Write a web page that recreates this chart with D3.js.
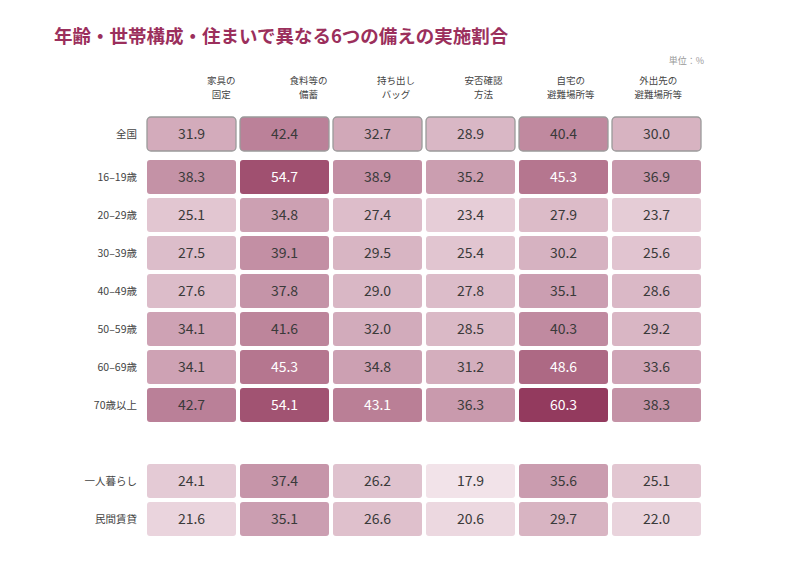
<!DOCTYPE html>
<html>
<head>
<meta charset="utf-8">
<script src="https://cdn.jsdelivr.net/npm/d3@7"></script>
<style>
  body { margin: 0; background: #fff; }
  text { font-family: "Noto Sans CJK JP", "Noto Sans", sans-serif; }
</style>
</head>
<body>
<div id="chart"></div>
<script>
const columns = ['家具の固定', '食料等の備蓄', '持ち出しバッグ', '安否確認方法', '自宅の避難場所等', '外出先の避難場所等']
const columnLines = [['家具の', '固定'], ['食料等の', '備蓄'], ['持ち出し', 'バッグ'], ['安否確認', '方法'], ['自宅の', '避難場所等'], ['外出先の', '避難場所等']]

const nationalRow = ['全国']
const nationalValues = [[31.9, 42.4, 32.7, 28.9, 40.4, 30.0]]

const ageRows = ['16–19歳', '20–29歳', '30–39歳', '40–49歳', '50–59歳', '60–69歳', '70歳以上']
const ageValues = [
  [38.3, 54.7, 38.9, 35.2, 45.3, 36.9],
  [25.1, 34.8, 27.4, 23.4, 27.9, 23.7],
  [27.5, 39.1, 29.5, 25.4, 30.2, 25.6],
  [27.6, 37.8, 29.0, 27.8, 35.1, 28.6],
  [34.1, 41.6, 32.0, 28.5, 40.3, 29.2],
  [34.1, 45.3, 34.8, 31.2, 48.6, 33.6],
  [42.7, 54.1, 43.1, 36.3, 60.3, 38.3]
]

const householdRows = ['一人暮らし', '民間賃貸']
const householdValues = [
  [24.1, 37.4, 26.2, 17.9, 35.6, 25.1],
  [21.6, 35.1, 26.6, 20.6, 29.7, 22.0]
]

const width = 800, height = 567

const svg = d3.select('#chart').append('svg')
  .attr('width', width)
  .attr('height', height)

// title + unit
svg.append('text')
  .attr('x', 54).attr('y', 43)
  .attr('fill', '#9b2f5c')
  .attr('font-size', 18.5)
  .attr('font-weight', 'bold')
  .text('年齢・世帯構成・住まいで異なる6つの備えの実施割合')

svg.append('text')
  .attr('x', 704).attr('y', 64)
  .attr('text-anchor', 'end')
  .attr('fill', '#999')
  .attr('font-size', 9)
  .text('単位：%')

// scales
const x = d3.scaleBand()
  .domain(columns)
  .range([145, 703])
  .paddingInner(0.043)
  .paddingOuter(0.0215)

// headers sit on their own, slightly narrower spacing
const xHead = d3.scaleBand()
  .domain(columns)
  .range([177.5, 702])

const spacer = '_gap'
const y = d3.scaleBand()
  .domain([...ageRows, spacer, ...householdRows])
  .range([158, 538])
  .paddingInner(0.105)
  .paddingOuter(0.0526)

const nationalTop = y(ageRows[0]) - 43

const color = d3.scaleLinear()
  .domain([17.9, 60.3])
  .range(['#f2e3e9', '#933a5e'])
  .interpolate(d3.interpolateRgb)

// header labels, one text per line
const headLines = columns.flatMap((c, i) => columnLines[i].map((t, j) => ({ c, t, line: j })))

svg.append('g').selectAll('text')
  .data(headLines)
  .enter()
  .append('text')
  .attr('x', d => xHead(d.c) + xHead.bandwidth() / 2)
  .attr('y', d => 83.5 + d.line * 14)
  .attr('text-anchor', 'middle')
  .attr('fill', '#444')
  .attr('font-size', 9.5)
  .text(d => d.t)

// rows
const rows = [
  ...nationalRow.map((r, i) => ({ name: r, values: nationalValues[i], top: nationalTop, national: true })),
  ...ageRows.map((r, i) => ({ name: r, values: ageValues[i], top: y(r) })),
  ...householdRows.map((r, i) => ({ name: r, values: householdValues[i], top: y(r) }))
]

const rowG = svg.append('g').selectAll('g')
  .data(rows)
  .enter()
  .append('g')
  .attr('transform', d => `translate(0,${d.top})`)

rowG.append('text')
  .attr('x', 137)
  .attr('y', y.bandwidth() / 2)
  .attr('dy', '0.35em')
  .attr('text-anchor', 'end')
  .attr('fill', '#444')
  .attr('font-size', 10.5)
  .text(d => d.name)

const cell = rowG.selectAll('g.cell')
  .data(d => d.values.map((v, i) => ({ v, col: columns[i], national: d.national })))
  .enter()
  .append('g')
  .attr('class', 'cell')

cell.append('rect')
  .attr('x', d => x(d.col))
  .attr('y', 0)
  .attr('width', x.bandwidth())
  .attr('height', y.bandwidth())
  .attr('rx', d => d.national ? 4 : 3)
  .attr('fill', d => color(d.v))
  .attr('stroke', d => d.national ? '#9a9a9a' : 'none')
  .attr('stroke-width', 1.3)

cell.append('text')
  .attr('x', d => x(d.col) + x.bandwidth() / 2)
  .attr('y', y.bandwidth() / 2)
  .attr('dy', '0.36em')
  .attr('text-anchor', 'middle')
  .attr('font-size', 14)
  .attr('fill', d => d.v >= 43 ? '#fff' : '#3a3a3a')
  .text(d => d.v.toFixed(1))
</script>
</body>
</html>
